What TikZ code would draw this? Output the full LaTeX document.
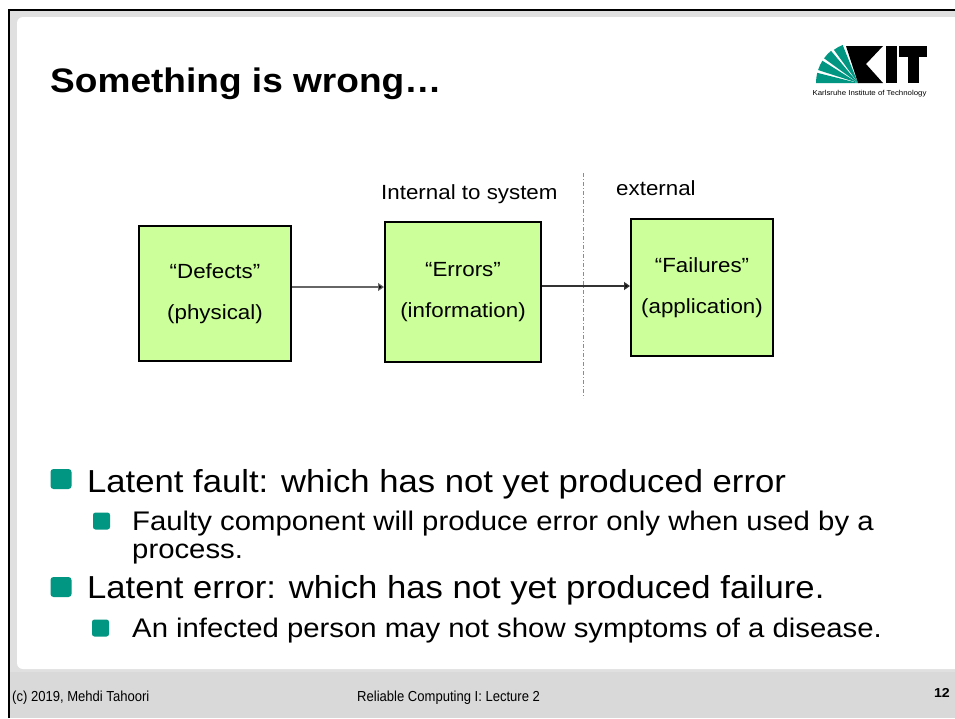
\documentclass[tikz,border=0pt]{standalone}
\usepackage{fontspec}
\setmainfont{Liberation Sans}[FakeStretch=1.09]
\newfontfamily\footfont{Liberation Sans}[FakeStretch=0.9]
\usetikzlibrary{arrows.meta,calc}
\definecolor{boxgreen}{HTML}{CCFF99}
\definecolor{kitgreen}{HTML}{009682}
\definecolor{framegray}{HTML}{E0E0E0}
\definecolor{footgray}{HTML}{D9D9D9}
\begin{document}
\begin{tikzpicture}[x=1pt,y=-1pt,
  fbox/.style={draw=black, line width=2pt, fill=boxgreen, align=center, inner sep=0pt,
    font=\fontsize{20.5}{41}\selectfont},
  lbl/.style={inner sep=0pt, anchor=base west, font=\fontsize{20.5}{24}\selectfont},
  arra/.style={draw=black!60, line width=1.1pt, -{Triangle[length=6pt,width=8pt,fill=black]}},
  arrb/.style={draw=black!80, line width=1.3pt, -{Triangle[length=6pt,width=8pt,fill=black]}},
  sepline/.style={draw=black!45, line width=0.9pt, dash pattern=on 4pt off 2pt on 1pt off 2pt},
  bulone/.style={fill=kitgreen, rounded corners=3pt, inner sep=0pt, minimum width=21pt, minimum height=20pt},
  bultwo/.style={fill=kitgreen, rounded corners=2.5pt, inner sep=0pt, minimum size=17pt},
  txone/.style={inner sep=0pt, anchor=base west, font=\fontsize{31.8}{38}\selectfont},
  txtwo/.style={inner sep=0pt, anchor=base west, font=\fontsize{26.9}{28}\selectfont},
  foot/.style={inner sep=0pt, anchor=base west, font=\footfont\fontsize{14.5}{16}\selectfont}
]
\useasboundingbox (0,0) rectangle (955,718);
% slide frame
\fill[white] (0,0) rectangle (955,718);
\fill[framegray] (10,11) rectangle (955,718);
\fill[footgray] (10,672) rectangle (955,718);
\fill[white, rounded corners=6pt] (17,17) rectangle (980,669);
\draw[line width=2pt] (9,718) -- (9,10) -- (955,10);

% title
\node[inner sep=0pt, anchor=base west, font=\fontsize{34}{40}\selectfont\bfseries] (title) at (50,92) {Something is wrong…};

% KIT logo
\begin{scope}[shift={(858,83)}, y=1pt]
  \fill[kitgreen] (0,0) -- (180:42) arc[start angle=180, end angle=166, radius=42] -- cycle;
  \fill[kitgreen] (0,0) -- (162:42) arc[start angle=162, end angle=148, radius=42] -- cycle;
  \fill[kitgreen] (0,0) -- (144:42) arc[start angle=144, end angle=130, radius=42] -- cycle;
  \fill[kitgreen] (0,0) -- (126:41) arc[start angle=126, end angle=112, radius=41] -- cycle;
  \fill[black] (0,0) -- (-12,37) -- (25,37) -- (8,19) -- (25,0) -- cycle;
  \fill[black] (28,0) rectangle (39,37);
  \fill[black] (41,26) rectangle (69,37);
  \fill[black] (49.5,0) rectangle (60.5,26);
\end{scope}
\node[inner sep=0pt, font=\fontsize{7.2}{8}\selectfont] (kittext) at (869.5,93.5) {Karlsruhe Institute of Technology};

% diagram
\coordinate (dt) at (583,173);
\coordinate (db) at (583,398);
\draw[sepline] (dt) -- (db);

\node[fbox, minimum width=152pt, minimum height=135pt] (D) at (215,293.5) {“Defects”\\(physical)};
\node[fbox, minimum width=156pt, minimum height=140pt] (E) at (463,292) {“Errors”\\(information)};
\node[fbox, minimum width=142pt, minimum height=137pt] (F) at (702,287.5) {“Failures”\\(application)};

\node[lbl] (int) at (381,199) {Internal to system};
\node[lbl] (ext) at (616,195) {external};

\coordinate (ya) at (0,287);
\coordinate (yb) at (0,286);
\draw[arra] (D.east |- ya) -- (E.west |- ya);
\draw[arrb] (E.east |- yb) -- (F.west |- yb);

% bullets
\node[bulone] (b1) at (61,479) {};
\node[txone] (l1) at (87,492) {Latent fault: which has not yet produced error};
\node[bultwo] (b2) at (101.5,521) {};
\node[txtwo] (l2) at (132,530) {Faulty component will produce error only when used by a};
\node[txtwo] (l2b) at (132,558) {process.};
\node[bulone] (b3) at (61,587) {};
\node[txone] (l3) at (87,598) {Latent error: which has not yet produced failure.};
\node[bultwo] (b4) at (100.5,628) {};
\node[txtwo] (l4) at (132,637) {An infected person may not show symptoms of a disease.};

% footer
\node[foot] (f1) at (12,701) {(c) 2019, Mehdi Tahoori};
\node[foot] (f2) at (357,701) {Reliable Computing I: Lecture 2};
\node[inner sep=0pt, anchor=base east, font=\fontsize{13}{15}\selectfont\bfseries] (f3) at (950,697) {12};
\end{tikzpicture}
\end{document}
